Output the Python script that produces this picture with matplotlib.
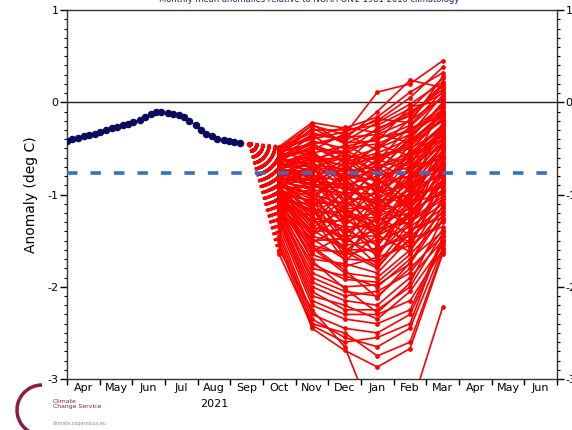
import numpy as np
import matplotlib
matplotlib.use("Agg")
import matplotlib.pyplot as plt
from matplotlib.patches import Arc
from matplotlib.ticker import MultipleLocator, FuncFormatter, FixedLocator

# Axis months, Apr 2021 .. Jun 2022
months = ["Apr", "May", "Jun", "Jul", "Aug", "Sep", "Oct", "Nov", "Dec",
          "Jan", "Feb", "Mar", "Apr", "May", "Jun"]

# Observed anomaly (roughly 5-day steps from 1 Apr 2021)
obs_day = [0, 5, 10, 16, 21, 26, 31, 36, 42, 47, 52, 57, 62, 68, 73, 78,
           83, 88, 94, 99, 104, 109, 114, 120, 125, 130, 135, 140, 146, 151, 156, 161]
obs_anom = [-0.42, -0.40, -0.39, -0.37, -0.35, -0.34, -0.32, -0.30, -0.28, -0.27,
            -0.25, -0.23, -0.21, -0.19, -0.16, -0.13, -0.11, -0.11, -0.12, -0.13,
            -0.14, -0.16, -0.20, -0.25, -0.30, -0.34, -0.37, -0.40, -0.41, -0.42,
            -0.43, -0.44]

# Forecast start (day after 1 Apr 2021) and value
fc_start_day = 170
fc_start_val = -0.45
climatology_line = -0.77

# Ensemble members, monthly means Oct..Mar
fc_months = ["Oct", "Nov", "Dec", "Jan", "Feb", "Mar"]
members = [
    [-0.50, -0.25, -0.35, 0.11, 0.20, 0.45],
    [-0.48, -0.22, -0.28, -0.16, 0.11, 0.32],
    [-0.52, -0.30, -0.30, -0.25, -0.07, 0.26],
    [-0.55, -0.35, -0.40, -0.10, 0.24, 0.16],
    [-0.50, -0.40, -0.32, -0.20, 0.05, 0.38],
    [-0.58, -0.28, -0.45, -0.30, -0.10, 0.10],
    [-0.53, -0.45, -0.38, -0.35, -0.20, 0.05],
    [-0.60, -0.50, -0.55, -0.28, -0.15, 0.20],
    [-0.62, -0.42, -0.50, -0.45, -0.30, -0.05],
    [-0.57, -0.55, -0.48, -0.40, -0.25, 0.12],
    [-0.65, -0.60, -0.62, -0.50, -0.35, -0.10],
    [-0.63, -0.48, -0.65, -0.55, -0.40, 0.00],
    [-0.68, -0.65, -0.58, -0.62, -0.45, -0.20],
    [-0.70, -0.58, -0.70, -0.48, -0.28, -0.15],
    [-0.66, -0.70, -0.75, -0.70, -0.55, -0.25],
    [-0.72, -0.62, -0.68, -0.60, -0.50, -0.30],
    [-0.74, -0.75, -0.80, -0.65, -0.42, -0.12],
    [-0.71, -0.68, -0.72, -0.78, -0.60, -0.35],
    [-0.76, -0.80, -0.85, -0.72, -0.58, -0.40],
    [-0.78, -0.72, -0.78, -0.85, -0.65, -0.28],
    [-0.80, -0.85, -0.90, -0.80, -0.70, -0.45],
    [-0.77, -0.78, -0.95, -0.90, -0.62, -0.50],
    [-0.82, -0.90, -0.88, -0.95, -0.75, -0.38],
    [-0.84, -0.82, -1.00, -0.88, -0.80, -0.55],
    [-0.85, -0.95, -0.98, -1.00, -0.72, -0.60],
    [-0.83, -0.88, -1.05, -1.05, -0.85, -0.48],
    [-0.88, -1.00, -1.10, -0.98, -0.90, -0.65],
    [-0.87, -0.92, -0.92, -1.10, -0.82, -0.70],
    [-0.90, -1.05, -1.15, -1.15, -0.95, -0.58],
    [-0.92, -0.98, -1.20, -1.08, -1.00, -0.75],
    [-0.89, -1.10, -1.08, -1.20, -0.92, -0.80],
    [-0.94, -1.15, -1.25, -1.25, -1.05, -0.68],
    [-0.95, -1.08, -1.30, -1.18, -1.10, -0.85],
    [-0.97, -1.20, -1.18, -1.30, -1.00, -0.90],
    [-0.93, -1.25, -1.35, -1.35, -1.15, -0.78],
    [-1.00, -1.18, -1.40, -1.28, -1.20, -0.95],
    [-0.98, -1.30, -1.28, -1.40, -1.08, -1.00],
    [-1.02, -1.35, -1.45, -1.45, -1.25, -0.88],
    [-1.04, -1.28, -1.50, -1.38, -1.30, -1.05],
    [-1.01, -1.40, -1.38, -1.55, -1.18, -0.98],
    [-1.06, -1.45, -1.55, -1.50, -1.35, -1.10],
    [-1.08, -1.38, -1.60, -1.60, -1.40, -1.15],
    [-1.05, -1.50, -1.48, -1.65, -1.28, -1.02],
    [-1.10, -1.55, -1.65, -1.58, -1.45, -1.20],
    [-1.12, -1.48, -1.70, -1.72, -1.50, -1.08],
    [-1.09, -1.60, -1.62, -1.80, -1.38, -1.25],
    [-1.14, -1.65, -1.78, -1.68, -1.55, -1.30],
    [-1.15, -1.58, -1.85, -1.90, -1.60, -1.18],
    [-1.11, -1.70, -1.75, -1.85, -1.48, -1.35],
    [-1.17, -1.75, -1.92, -1.95, -1.65, -1.28],
    [-1.13, -1.80, -1.88, -2.00, -1.70, -1.40],
    [-1.18, -1.85, -2.00, -1.98, -1.75, -1.22],
    [-1.20, -1.90, -2.05, -2.10, -1.80, -1.45],
    [-1.16, -1.95, -2.10, -2.05, -1.85, -1.38],
    [-1.22, -2.00, -2.15, -2.20, -1.90, -1.50],
    [-1.25, -2.05, -2.25, -2.25, -2.00, -1.42],
    [-1.28, -2.10, -2.20, -2.35, -2.05, -1.55],
    [-1.30, -2.15, -2.30, -2.30, -2.15, -1.60],
    [-1.35, -2.20, -2.35, -2.40, -2.25, -1.48],
    [-1.40, -2.30, -2.45, -2.50, -2.30, -1.52],
    [-1.45, -2.35, -2.55, -2.65, -2.45, -1.58],
    [-1.50, -2.40, -2.50, -2.75, -2.60, -1.62],
    [-1.55, -2.45, -2.69, -2.87, -2.67, -1.64],
    [-1.60, -2.25, -2.65, -3.53, -3.34, -2.22],
    [-1.65, -2.42, -2.60, -2.55, -2.40, -1.45],
    [-0.60, -0.70, -0.60, -0.75, -0.40, -0.20],
    [-0.70, -0.52, -0.85, -0.55, -0.70, -0.05],
    [-0.75, -0.90, -0.65, -1.00, -0.55, -0.35],
    [-0.80, -0.65, -1.10, -0.70, -0.95, -0.22],
    [-0.86, -1.12, -0.82, -1.25, -0.68, -0.62],
    [-0.90, -0.75, -1.30, -0.82, -1.15, -0.42],
    [-0.96, -1.32, -0.95, -1.48, -0.88, -0.72],
    [-1.00, -0.95, -1.52, -1.02, -1.35, -0.52],
    [-1.03, -1.42, -1.12, -1.70, -1.02, -0.92],
    [-1.07, -1.10, -1.68, -1.22, -1.58, -0.82],
    [-0.55, -0.62, -0.52, -0.68, -0.35, 0.08],
    [-0.64, -0.85, -0.72, -0.58, -0.48, -0.18],
    [-0.73, -0.55, -0.92, -1.12, -0.78, -0.32],
    [-0.81, -1.02, -0.78, -0.92, -1.12, -0.66],
    [-0.91, -0.68, -1.22, -1.35, -0.98, -0.58],
    [-0.49, -0.33, -0.42, -0.22, -0.02, 0.22],
    [-0.51, -0.38, -0.27, -0.33, -0.12, 0.14],
    [-0.54, -0.46, -0.36, -0.18, -0.22, 0.28],
    [-0.56, -0.24, -0.44, -0.42, -0.05, 0.02],
    [-0.59, -0.52, -0.34, -0.52, -0.18, 0.18],
    [-0.61, -0.36, -0.56, -0.38, -0.32, -0.08],
    [-0.62, -0.66, -0.46, -0.64, -0.26, 0.06],
    [-0.64, -0.44, -0.66, -0.34, -0.44, -0.14],
    [-0.67, -0.74, -0.54, -0.76, -0.38, -0.02],
    [-0.69, -0.56, -0.76, -0.46, -0.58, -0.26],
    [-0.71, -0.82, -0.62, -0.88, -0.46, -0.10],
    [-0.73, -0.60, -0.86, -0.62, -0.74, -0.30],
    [-0.75, -0.94, -0.70, -0.96, -0.52, -0.16],
    [-0.77, -0.64, -0.96, -0.66, -0.84, -0.40],
    [-0.79, -1.04, -0.80, -1.06, -0.60, -0.24],
    [-0.81, -0.70, -1.06, -0.74, -0.96, -0.46],
    [-0.83, -1.14, -0.88, -1.16, -0.70, -0.34],
    [-0.85, -0.76, -1.16, -0.84, -1.06, -0.54],
    [-0.87, -1.22, -0.98, -1.26, -0.80, -0.44],
    [-0.89, -0.84, -1.26, -0.94, -1.16, -0.62],
    [-0.91, -1.30, -1.06, -1.36, -0.90, -0.52],
    [-0.93, -0.92, -1.34, -1.04, -1.26, -0.70],
    [-0.95, -1.36, -1.16, -1.46, -1.00, -0.60],
    [-0.97, -1.00, -1.44, -1.14, -1.34, -0.78],
    [-0.99, -1.44, -1.24, -1.56, -1.10, -0.68],
    [-1.01, -1.06, -1.54, -1.24, -1.44, -0.86],
    [-1.03, -1.52, -1.34, -1.64, -1.20, -0.76],
    [-1.05, -1.16, -1.62, -1.34, -1.52, -0.94],
    [-1.07, -1.62, -1.44, -1.76, -1.30, -0.84],
    [-1.09, -1.24, -1.72, -1.44, -1.62, -1.04],
    [-0.58, -0.46, -0.58, -0.86, -0.64, -0.36],
    [-0.66, -0.54, -0.82, -1.18, -0.86, -0.48],
    [-0.74, -0.86, -1.14, -1.42, -1.22, -0.74],
    [-0.84, -1.26, -1.58, -1.78, -1.42, -0.96],
    [-0.94, -1.56, -1.82, -2.12, -1.74, -1.12],
    [-1.02, -1.72, -2.02, -2.28, -1.96, -1.26],
]

DAYS_PER_MONTH = 30.44
obs_x = np.array(obs_day) / DAYS_PER_MONTH
start_x = fc_start_day / DAYS_PER_MONTH
fc_x = np.array([months.index(m) + 0.5 for m in fc_months])

fig = plt.figure(figsize=(5.72, 4.30), dpi=100)
ax = fig.add_axes([0.117, 0.1186, 0.857, 0.858])

ax.axhline(0, color="#222222", lw=1.0, zorder=1)

# dotted fan from last observation to first forecast month
for m in members:
    ax.plot([start_x, fc_x[0]], [fc_start_val, m[0]], color="red",
            lw=2.2, linestyle=(0, (1.0, 1.0)), dash_capstyle="butt", zorder=2)
# forecast members
for m in members:
    ax.plot(fc_x, m, color="red", lw=1.2, marker="o", ms=2.4, zorder=3)
ax.plot([start_x], [fc_start_val], "o", color="red", ms=3, zorder=3)

# observations
ax.plot(obs_x, obs_anom, "-o", color="#0a0a5e", lw=1, ms=4.4, zorder=4)

ax.axhline(climatology_line, color="#3a6fbf", lw=2.6,
           linestyle=(0, (2.9, 3.6)), zorder=5)

ax.set_xlim(0, 15)
ax.set_ylim(-3, 1)

ax.xaxis.set_major_locator(FixedLocator(np.arange(0, 16)))
ax.xaxis.set_minor_locator(FixedLocator(np.arange(15) + 0.5))
ax.xaxis.set_major_formatter(FuncFormatter(lambda v, p: ""))
ax.xaxis.set_minor_formatter(FuncFormatter(lambda v, p: months[int(v)]))
ax.tick_params(axis="x", which="major", length=4, width=1, direction="out")
ax.tick_params(axis="x", which="minor", length=0, labelsize=8, pad=3)

ax.yaxis.set_major_locator(MultipleLocator(1))
ax.yaxis.set_minor_locator(MultipleLocator(0.1))
ax.yaxis.set_major_formatter(FuncFormatter(lambda v, p: f"{v:.0f}"))
ax.tick_params(axis="y", which="both", left=True, right=True,
               labelleft=True, labelright=True, direction="out", labelsize=8)
ax.tick_params(axis="y", which="major", length=5, width=1, pad=1)
ax.tick_params(axis="y", which="minor", length=2.5, width=0.8)

for sp in ax.spines.values():
    sp.set_color("#333333")
    sp.set_linewidth(1)

ax.set_ylabel("Anomaly (deg C)", fontsize=10, labelpad=7)
ax.text(4.5, -3.27, "2021", ha="center", va="center", fontsize=8,
        transform=ax.transData)

fig.text(0.54, 1.0, "Monthly mean anomalies relative to NOAA OIv2 1981-2010 climatology",
         ha="center", va="center", fontsize=6, color="#1c1c80")

# Copernicus-style mark
logo_col = "#8c1d40"
fig.add_artist(Arc((42 / 572, 1 - 410 / 430), 50 / 572, 50 / 430, theta1=90, theta2=285,
                   lw=2.5, color=logo_col, transform=fig.transFigure))
fig.text(53 / 572, 1 - 404 / 430, "Climate\nChange Service", fontsize=4.4,
         color=logo_col, va="center", linespacing=1.1)
fig.text(53 / 572, 1 - 424 / 430, "climate.copernicus.eu", fontsize=3.5,
         color="#888888", va="center")

fig.savefig("out.png", dpi=100)
